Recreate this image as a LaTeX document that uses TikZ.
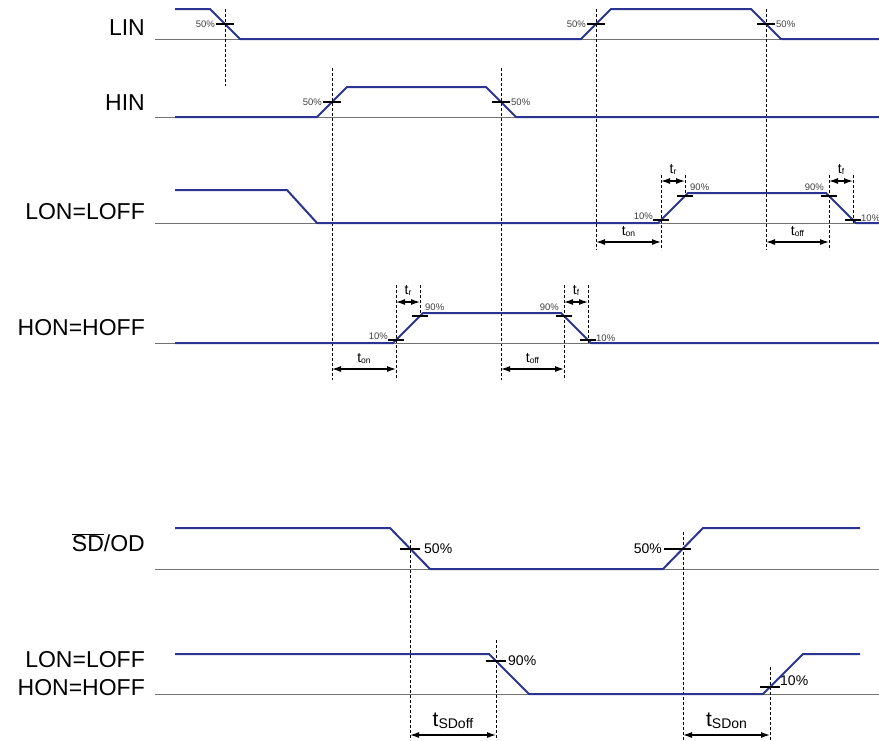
\documentclass[tikz,border=0pt]{standalone}
\usepackage{fontspec}
\setmainfont{Liberation Sans}
\usetikzlibrary{arrows.meta,positioning}
\definecolor{wave}{RGB}{43,52,145}
\tikzset{SigStyle/.style={wave,line width=2pt,line join=round},
 BaseStyle/.style={black!55,line width=1pt},
 GuideStyle/.style={black,dash pattern=on 3pt off 2pt,line width=0.8pt},
 TickStyle/.style={black,line width=1.2pt},
 DimStyle/.style={{Latex[length=9pt,width=6pt]}-{Latex[length=9pt,width=6pt]},line width=1.2pt},
 NameStyle/.style={anchor=east,inner sep=0pt,font=\fontsize{23}{23}\selectfont},
 PctStyle/.style={inner sep=1pt,text=black!75,font=\fontsize{9.5}{9.5}\selectfont},
 BigPct/.style={inner sep=2pt,font=\fontsize{14}{14}\selectfont},
 TimeStyle/.style={inner sep=0pt,font=\fontsize{14}{14}\selectfont},
 BigTime/.style={inner sep=0pt,font=\fontsize{21}{21}\selectfont}}
\newcommand{\sub}[1]{\raisebox{-1pt}{\fontsize{8.5}{8.5}\selectfont #1}}
\newcommand{\bigsub}[1]{\raisebox{-1.5pt}{\fontsize{14}{14}\selectfont #1}}
\begin{document}
\begin{tikzpicture}[x=1pt,y=-1pt]
\useasboundingbox (0,0) rectangle (879,740);
% LIN
\node[NameStyle] (lin) at (145,28) {LIN};
\draw[BaseStyle] (155,39) -- (879,39);
\draw[SigStyle] (175,9) -- (210,9) -- (240,39) -- (581,39) -- (611,9) -- (751,9) -- (781,39) -- (879,39);
\coordinate (l1) at (225,24); \coordinate (l2) at (596,24); \coordinate (l3) at (766,24);
\draw[GuideStyle] (225,9) -- (225,86);
\draw[GuideStyle] (596,9) -- (596,250);
\draw[GuideStyle] (766,9) -- (766,250);
\foreach \p in {l1,l2,l3} \draw[TickStyle] ([xshift=-9]\p) -- ([xshift=9]\p);
\node[PctStyle,left] at ([xshift=-9]l1) {50\%};
\node[PctStyle,left] at ([xshift=-9]l2) {50\%};
\node[PctStyle,right] at ([xshift=9]l3) {50\%};
% HIN
\node[NameStyle] (hin) at (145,103) {HIN};
\draw[BaseStyle] (155,117) -- (879,117);
\draw[SigStyle] (175,117) -- (317,117) -- (347,87) -- (486,87) -- (516,117) -- (879,117);
\coordinate (h1) at (332,102); \coordinate (h2) at (501,102);
\draw[GuideStyle] (332,68) -- (332,380);
\draw[GuideStyle] (501,68) -- (501,380);
\foreach \p in {h1,h2} \draw[TickStyle] ([xshift=-9]\p) -- ([xshift=9]\p);
\node[PctStyle,left] at ([xshift=-9]h1) {50\%};
\node[PctStyle,right] at ([xshift=9]h2) {50\%};
% LON=LOFF
\node[NameStyle] (lon) at (145,212) {LON=LOFF};
\draw[BaseStyle] (155,223) -- (879,223);
\draw[SigStyle] (175,190) -- (287,190) -- (317,223) -- (658,223) -- (688,193) -- (826,193) -- (856,223) -- (879,223);
\coordinate (a1) at (661,220); \coordinate (a2) at (685,196);
\coordinate (a3) at (829,196); \coordinate (a4) at (853,220);
\draw[GuideStyle] (661,175) -- (661,250);
\draw[GuideStyle] (685,175) -- (685,196);
\draw[GuideStyle] (829,175) -- (829,250);
\draw[GuideStyle] (853,175) -- (853,224);
\foreach \p in {a1,a2,a3,a4} \draw[TickStyle] ([xshift=-8]\p) -- ([xshift=8]\p);
\node[PctStyle,left] at ([xshift=-7,yshift=4]a1) {10\%};
\node[PctStyle,right] at ([xshift=4,yshift=9]a2) {90\%};
\node[PctStyle,left] at ([xshift=-4,yshift=9]a3) {90\%};
\node[PctStyle,right] at ([xshift=7,yshift=2]a4) {10\%};
\coordinate (tr1) at (661,181); \coordinate (tr2) at (685,181);
\coordinate (tf1) at (829,181); \coordinate (tf2) at (853,181);
\coordinate (ton1) at (596,242); \coordinate (ton2) at (661,242);
\coordinate (tof1) at (766,242); \coordinate (tof2) at (829,242);
\draw[DimStyle] (tr1) -- (tr2) node[TimeStyle,midway,above=6pt] {t\sub{r}};
\draw[DimStyle] (tf1) -- (tf2) node[TimeStyle,midway,above=6pt] {t\sub{f}};
\draw[DimStyle] (ton1) -- (ton2) node[TimeStyle,midway,above=5pt] {t\sub{on}};
\draw[DimStyle] (tof1) -- (tof2) node[TimeStyle,midway,above=5pt] {t\sub{off}};
% HON=HOFF
\node[NameStyle] (hon) at (145,328) {HON=HOFF};
\draw[BaseStyle] (155,343) -- (879,343);
\draw[SigStyle] (175,343) -- (393,343) -- (423,313) -- (561,313) -- (591,343) -- (879,343);
\coordinate (b1) at (396,340); \coordinate (b2) at (420,316);
\coordinate (b3) at (564,316); \coordinate (b4) at (588,340);
\draw[GuideStyle] (396,285) -- (396,380);
\draw[GuideStyle] (420,285) -- (420,316);
\draw[GuideStyle] (564,285) -- (564,380);
\draw[GuideStyle] (588,285) -- (588,344);
\foreach \p in {b1,b2,b3,b4} \draw[TickStyle] ([xshift=-8]\p) -- ([xshift=8]\p);
\node[PctStyle,left] at ([xshift=-7,yshift=4]b1) {10\%};
\node[PctStyle,right] at ([xshift=4,yshift=9]b2) {90\%};
\node[PctStyle,left] at ([xshift=-4,yshift=9]b3) {90\%};
\node[PctStyle,right] at ([xshift=7,yshift=2]b4) {10\%};
\coordinate (ur1) at (396,302); \coordinate (ur2) at (420,302);
\coordinate (uf1) at (564,302); \coordinate (uf2) at (588,302);
\coordinate (uon1) at (332,369); \coordinate (uon2) at (396,369);
\coordinate (uof1) at (501,369); \coordinate (uof2) at (564,369);
\draw[DimStyle] (ur1) -- (ur2) node[TimeStyle,midway,above=6pt] {t\sub{r}};
\draw[DimStyle] (uf1) -- (uf2) node[TimeStyle,midway,above=6pt] {t\sub{f}};
\draw[DimStyle] (uon1) -- (uon2) node[TimeStyle,midway,above=5pt] {t\sub{on}};
\draw[DimStyle] (uof1) -- (uof2) node[TimeStyle,midway,above=5pt] {t\sub{off}};
% SD/OD
\node[NameStyle] (sd) at (145,543) {$\overline{\mbox{SD}}$/OD};
\draw[BaseStyle] (155,569) -- (879,569);
\draw[SigStyle] (175,528) -- (390,528) -- (430,569) -- (663,569) -- (703,528) -- (860,528);
\coordinate (s1) at (410,549); \coordinate (s2) at (683,549);
\draw[GuideStyle] (410,540) -- (410,740);
\draw[GuideStyle] (683,532) -- (683,740);
\draw[TickStyle] ([xshift=-10]s1) -- ([xshift=10]s1);
\draw[TickStyle] ([xshift=-19]s2) -- ([xshift=8]s2);
\node[BigPct,right] at ([xshift=12]s1) {50\%};
\node[BigPct,left] at ([xshift=-19]s2) {50\%};
% LON=LOFF / HON=HOFF
\node[NameStyle] (lon2) at (145,660) {LON=LOFF};
\node[NameStyle] (hon2) at (145,688) {HON=HOFF};
\draw[BaseStyle] (155,694) -- (879,694);
\draw[SigStyle] (175,654) -- (489,654) -- (529,694) -- (763,694) -- (803,654) -- (860,654);
\coordinate (c1) at (496,661); \coordinate (c2) at (770,687);
\draw[GuideStyle] (496,640) -- (496,740);
\draw[GuideStyle] (770,667) -- (770,740);
\foreach \p in {c1,c2} \draw[TickStyle] ([xshift=-10]\p) -- ([xshift=10]\p);
\node[BigPct,right] at ([xshift=10]c1) {90\%};
\node[BigPct,right] at ([xshift=8,yshift=6]c2) {10\%};
\coordinate (so1) at (410,735); \coordinate (so2) at (496,735);
\coordinate (sn1) at (683,735); \coordinate (sn2) at (770,735);
\draw[DimStyle] (so1) -- (so2) node[BigTime,midway,above=6pt] {t\bigsub{SDoff}};
\draw[DimStyle] (sn1) -- (sn2) node[BigTime,midway,above=6pt] {t\bigsub{SDon}};
\end{tikzpicture}
\end{document}
